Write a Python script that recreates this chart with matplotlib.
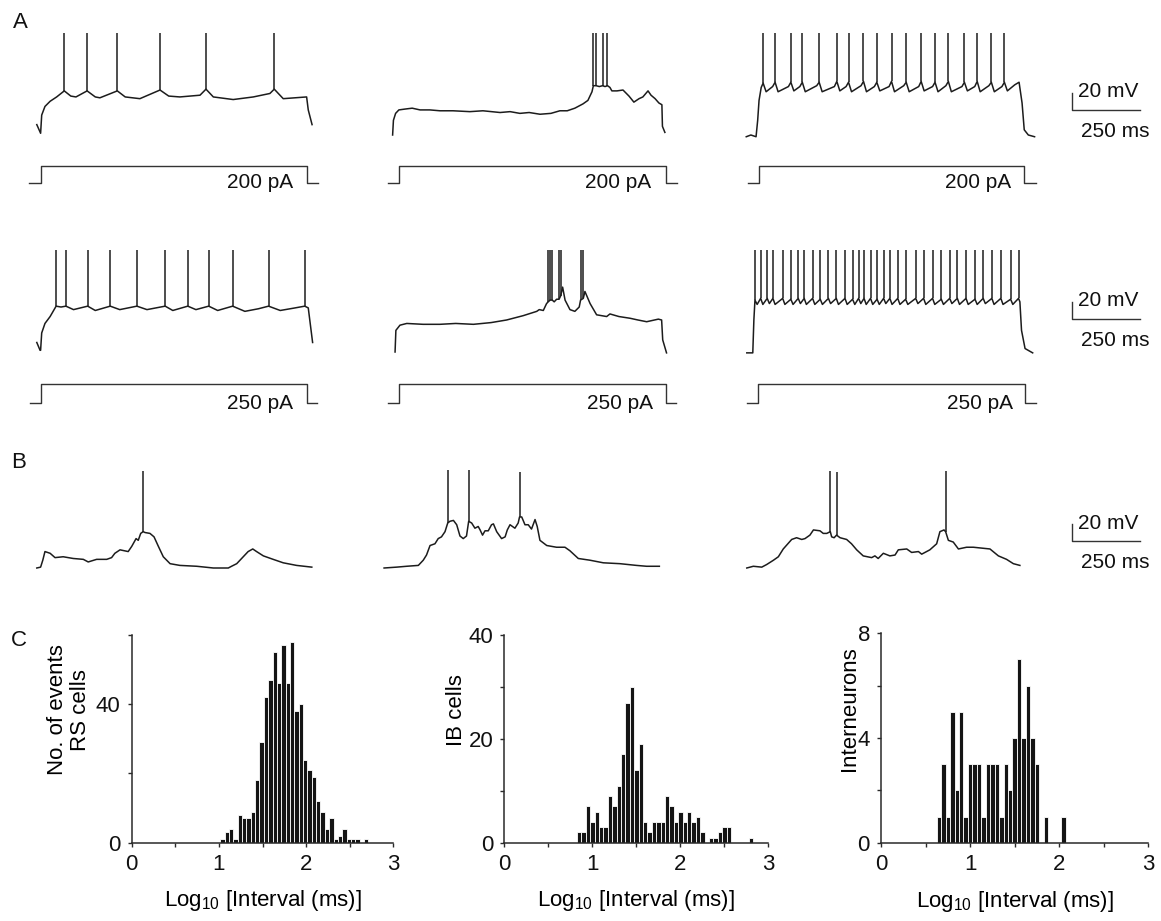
#!/usr/bin/env python3
"""
Firing patterns of RS, IB and FS cells: current-step responses (A),
spontaneous activity (B) and inter-spike-interval histograms (C).
"""

import numpy as np
import matplotlib
matplotlib.use('Agg')
import matplotlib.pyplot as plt

plt.rcParams.update({
    'font.family': 'Liberation Sans', 'font.size': 15,
    'mathtext.fontset': 'custom', 'mathtext.rm': 'Liberation Sans',
    'mathtext.it': 'Liberation Sans:italic',
    'axes.linewidth': 1.1, 'axes.edgecolor': '#2a2a2a',
    'xtick.labelsize': 16, 'ytick.labelsize': 16,
    'xtick.color': '#2a2a2a', 'ytick.color': '#2a2a2a',
    'xtick.labelcolor': '#111111', 'ytick.labelcolor': '#111111',
    'text.color': '#111111',
})

INK = '#1c1c1c'

# ---- A: responses to 200 pA steps (time ms, potential mV) ----
RS_200_T = [25, 39, 43, 55, 74, 98, 126, 150, 169, 210, 240, 257, 321, 350, 404, 478, 510, 551, 625, 647,
            674, 747, 821, 882, 898, 931, 1017, 1023, 1037]
RS_200_V = [-58, -68, -47, -37, -31, -26, -19, -25, -26, -19, -26, -27, -19, -26, -28, -18, -25, -26, -24, -17,
            -26, -29, -26, -22, -17, -28, -26, -41, -58]
RS_200_SPIKES = [126, 210, 321, 478, 647, 898]

IB_200_T = [28, 31, 39, 51, 74, 100, 129, 165, 202, 250, 312, 360, 423, 460, 496, 530, 570, 610, 643, 670,
            698, 728, 746, 761, 766, 771, 776, 788, 800, 809, 818, 827, 834, 853, 875, 897, 915, 934, 948, 967,
            978, 993, 1007, 1018, 1020, 1029]
IB_200_V = [-70, -53, -45, -41, -40, -39, -41, -41, -42, -42, -43, -42, -44, -43, -45, -44, -46, -45, -42, -42,
            -39, -34, -30, -20, -13, -13, -13, -14, -13, -14, -13, -15, -19, -19, -18, -25, -32, -28, -26, -19,
            -24, -28, -33, -35, -60, -67]
IB_200_SPIKES = [766, 776, 800, 818]

FS_200_T = [23, 40, 59, 65, 70, 78, 85, 96, 120, 129, 140, 178, 187, 198, 220, 229, 240, 282, 291, 302,
            347, 356, 367, 390, 399, 410, 445, 454, 465, 494, 503, 514, 548, 557, 568, 602, 611, 622, 657, 666,
            677, 708, 717, 728, 757, 766, 777, 816, 825, 836, 863, 872, 883, 915, 924, 935, 963, 972, 983, 1010,
            1026, 1037, 1045, 1060, 1083]
FS_200_V = [-72, -70, -72, -53, -30, -15, -10, -20, -14, -9, -20, -14, -9, -19, -14, -9, -20, -13, -9, -20,
            -14, -8, -19, -14, -9, -20, -13, -8, -20, -14, -9, -19, -14, -8, -20, -13, -9, -20, -14, -8,
            -19, -14, -9, -20, -13, -8, -20, -14, -9, -19, -14, -8, -20, -13, -9, -20, -14, -9, -19, -12,
            -9, -33, -64, -70, -72]
FS_200_SPIKES = [85, 129, 187, 229, 291, 356, 399, 454, 503, 557, 611, 666, 717, 766, 825, 872, 924, 972]

# ---- A: responses to 250 pA steps ----
RS_250_T = [25, 37, 39, 43, 55, 74, 96, 114, 132, 160, 212, 240, 295, 330, 393, 430, 497, 525, 580, 610,
            657, 690, 745, 790, 840, 877, 920, 975, 1010, 1023, 1039]
RS_250_V = [-59, -68, -68, -48, -37, -29, -17, -18, -17, -21, -17, -22, -17, -21, -17, -21, -17, -22, -17, -21,
            -17, -22, -17, -23, -20, -17, -22, -19, -17, -19, -59]
RS_250_SPIKES = [96, 132, 212, 295, 393, 497, 580, 657, 745, 877, 1010]

IB_250_T = [37, 40, 55, 80, 140, 202, 260, 325, 390, 447, 508, 558, 567, 582, 594, 600, 607, 615, 622, 631,
            640, 646, 653, 662, 680, 698, 714, 719, 729, 735, 754, 778, 815, 827, 860, 901, 930, 962, 1005, 1017,
            1021, 1035]
IB_250_V = [-70, -45, -39, -37, -38, -38, -37, -38, -36, -33, -28, -23, -21, -22, -14, -12, -10, -10, -12, -9,
            -9, -5, 5, -10, -21, -23, -18, -10, -8, 0, -14, -27, -29, -26, -29, -31, -33, -35, -32, -33,
            -56, -71]
IB_250_SPIKES = [600, 607, 615, 640, 646, 719, 729]

FS_250_T = [25, 47, 51, 55, 63, 76, 84, 100, 108, 121, 129, 157, 165, 187, 195, 214, 222, 236, 244, 267,
            275, 295, 303, 325, 333, 354, 362, 386, 394, 414, 422, 436, 444, 456, 464, 480, 488, 504, 512, 528,
            536, 551, 559, 580, 588, 609, 617, 646, 654, 675, 683, 708, 716, 740, 748, 771, 779, 799, 807, 831,
            839, 864, 872, 894, 902, 926, 934, 959, 967, 995, 1003, 1024, 1029, 1035, 1048, 1076]
FS_250_V = [-71, -71, -33, -10, -15, -8, -15, -8, -14, -8, -15, -8, -15, -9, -15, -8, -14, -8, -15, -8,
            -15, -9, -15, -8, -14, -8, -15, -8, -15, -9, -15, -8, -14, -8, -15, -8, -15, -9, -15, -8,
            -14, -8, -15, -8, -15, -9, -15, -8, -14, -8, -15, -8, -15, -9, -15, -8, -14, -8, -15, -8,
            -15, -9, -15, -8, -14, -8, -15, -8, -15, -9, -15, -8, -12, -45, -66, -71]
FS_250_SPIKES = [55, 76, 100, 121, 157, 187, 214, 236, 267, 295, 325, 354, 386, 414, 436, 456, 480, 504,
                 528, 551, 580, 609, 646, 675, 708, 740, 771, 799, 831, 864, 894, 926, 959, 995, 1024]

SPIKE_PEAK = 48

# current steps: [sweep start, step on, step off, sweep end] (ms)
STEPS_200 = [[-4, 39, 1017, 1059], [10, 51, 1034, 1073], [28, 70, 1045, 1088]]
STEPS_250 = [[0, 40, 1017, 1054], [12, 51, 1032, 1070], [27, 67, 1048, 1088]]
STEP_LABEL_T_200 = [967, 980, 998]
STEP_LABEL_T_250 = [967, 985, 1005]

# ---- B: spontaneous activity ----
B_RS_T = [25, 39, 47, 55, 74, 92, 122, 159, 196, 214, 245, 282, 300, 312, 331, 361, 374, 390, 398, 407,
          416, 423, 441, 456, 472, 490, 515, 551, 613, 674, 729, 741, 760, 784, 802, 819, 833, 858, 894, 931,
          980, 1036]
B_RS_V = [-70, -69, -61, -51, -53, -58, -57, -59, -60, -63, -60, -60, -58, -53, -49, -51, -45, -36, -38, -30,
          -28, -29, -30, -34, -45, -57, -65, -67, -68, -70, -70, -68, -65, -57, -51, -48, -51, -56, -60, -64,
          -67, -69]
B_RS_SPIKES = [416]
B_RS_PEAKS = [42]

B_IB_T = [15, 61, 98, 141, 159, 171, 184, 202, 214, 226, 239, 249, 257, 270, 282, 294, 306, 318, 326, 337,
          349, 361, 368, 377, 386, 398, 410, 417, 429, 447, 460, 468, 478, 496, 508, 513, 521, 533, 545, 557,
          570, 578, 588, 613, 649, 680, 698, 729, 772, 821, 882, 943, 980, 1027]
B_IB_V = [-70, -69, -68, -67, -61, -55, -44, -42, -36, -34, -28, -18, -16, -15, -20, -33, -36, -33, -16, -18,
          -24, -22, -26, -32, -27, -27, -20, -19, -28, -36, -34, -26, -20, -24, -18, -11, -11, -20, -20, -25,
          -14, -22, -38, -44, -46, -46, -50, -59, -61, -64, -65, -67, -68, -68]
B_IB_SPIKES = [249, 326, 513]
B_IB_PEAKS = [43, 43, 41]

B_FS_T = [25, 49, 80, 98, 123, 141, 159, 190, 208, 227, 239, 257, 270, 294, 306, 319, 332, 337, 346, 355,
          368, 392, 410, 429, 453, 484, 496, 508, 527, 551, 570, 582, 613, 631, 656, 668, 698, 723, 735, 750,
          756, 766, 784, 803, 833, 858, 919, 950, 980, 1005, 1029]
B_FS_V = [-70, -68, -69, -66, -61, -57, -48, -37, -35, -37, -36, -32, -26, -27, -30, -30, -28, -34, -35, -32,
          -35, -37, -42, -49, -56, -58, -56, -59, -53, -56, -55, -49, -48, -52, -51, -54, -49, -42, -28, -26,
          -28, -38, -40, -48, -46, -46, -48, -56, -60, -65, -67]
B_FS_SPIKES = [332, 355, 756]
B_FS_PEAKS = [42, 41, 42]

# ---- C: inter-spike-interval histograms (bin width 0.05 log10 units) ----
BIN_W = 0.05
RS_FIRST_BIN = 1.04
RS_COUNTS = [1, 3, 4, 1, 8, 7, 7, 9, 18, 29, 42, 47, 55, 46, 57, 46, 58, 38, 40, 24,
             21, 19, 12, 9, 4, 7, 1, 2, 4, 1, 1, 1, 0, 1]
IB_FIRST_BIN = 0.85
IB_COUNTS = [2, 2, 7, 4, 6, 3, 3, 9, 7, 11, 17, 27, 30, 14, 19, 4, 2, 4, 4, 4,
             9, 7, 4, 6, 4, 6, 4, 5, 2, 0, 1, 1, 2, 3, 3, 0, 0, 0, 0, 1]
IN_FIRST_BIN = 0.65
IN_COUNTS = [1, 3, 1, 5, 2, 5, 1, 3, 3, 3, 1, 3, 3, 3, 1, 3, 2, 4, 7, 4,
             6, 4, 3, 0, 1, 0, 0, 0, 1]

W, H = 1161, 921
MS_PER_PX = 250 / 68
MV_PER_PX = 20 / 17.3

fig = plt.figure(figsize=(W / 100, H / 100), dpi=100)
fig.patch.set_facecolor('white')


def px_axes(left, top, width, height):
    return fig.add_axes([left / W, 1 - (top + height) / H, width / W, height / H])


def trace_axes(x0, y_rest, tlim, vlim=(-80, 55), v_rest=-70):
    left = x0 + tlim[0] / MS_PER_PX
    width = (tlim[1] - tlim[0]) / MS_PER_PX
    top = y_rest - (vlim[1] - v_rest) / MV_PER_PX
    height = (vlim[1] - vlim[0]) / MV_PER_PX
    ax = px_axes(left, top, width, height)
    ax.set_xlim(tlim)
    ax.set_ylim(vlim)
    ax.axis('off')
    return ax


def current_axes(x0, y_zero, amp, amp_px, tlim):
    px_per = amp_px / amp
    ilim = (-0.8 * amp, 1.6 * amp)
    left = x0 + tlim[0] / MS_PER_PX
    width = (tlim[1] - tlim[0]) / MS_PER_PX
    top = y_zero - ilim[1] * px_per
    height = (ilim[1] - ilim[0]) * px_per
    ax = px_axes(left, top, width, height)
    ax.set_xlim(tlim)
    ax.set_ylim(ilim)
    ax.axis('off')
    return ax


def draw_trace(ax, t, v, spikes, peaks):
    ax.plot(t, v, color=INK, lw=1.1, solid_joinstyle='round')
    base = np.interp(spikes, t, v)
    ax.vlines(spikes, base, peaks, color=INK, lw=1.1)


def draw_step(ax, step, amp, label_t, label):
    t0, t1, t2, t3 = step
    ax.plot([t0, t1, t1, t2, t2, t3], [0, 0, amp, amp, 0, 0], color='#333333', lw=1.0)
    ax.text(label_t, 0, label, ha='right', va='center', fontsize=15)


def scale_bar(ax, t0, v0):
    ax.plot([t0, t0, t0 + 250], [v0 + 20, v0, v0], color='#333333', lw=1.0)
    ax.text(t0 + 24, v0 + 21, '20 mV', ha='left', va='center', fontsize=15)
    ax.text(t0 + 34, v0 - 24.5, '250 ms', ha='left', va='center', fontsize=15)


COL_X0 = [30, 385, 740]
TLIM = (-20, 1120)
TLIM_LAST = (-20, 1520)

rows = [
    (135, [(RS_200_T, RS_200_V, RS_200_SPIKES), (IB_200_T, IB_200_V, IB_200_SPIKES),
           (FS_200_T, FS_200_V, FS_200_SPIKES)], STEPS_200, STEP_LABEL_T_200, 200, 182.7, 17.0, -41),
    (352, [(RS_250_T, RS_250_V, RS_250_SPIKES), (IB_250_T, IB_250_V, IB_250_SPIKES),
           (FS_250_T, FS_250_V, FS_250_SPIKES)], STEPS_250, STEP_LABEL_T_250, 250, 403.3, 19.3, -32),
]
for y_rest, traces, steps, label_ts, amp, y_zero, amp_px, bar_v in rows:
    for c, (t, v, sp) in enumerate(traces):
        tl = TLIM_LAST if c == 2 else TLIM
        ax = trace_axes(COL_X0[c], y_rest, tl)
        draw_trace(ax, t, v, sp, SPIKE_PEAK)
        if c == 2:
            scale_bar(ax, 1220, bar_v)
        cax = current_axes(COL_X0[c], y_zero, amp, amp_px, TLIM)
        draw_step(cax, steps[c], amp, label_ts[c], f'{amp} pA')

# B
B_X0 = [30, 380, 740]
b_traces = [(B_RS_T, B_RS_V, B_RS_SPIKES, B_RS_PEAKS),
            (B_IB_T, B_IB_V, B_IB_SPIKES, B_IB_PEAKS),
            (B_FS_T, B_FS_V, B_FS_SPIKES, B_FS_PEAKS)]
for c, (t, v, sp, pk) in enumerate(b_traces):
    tl = TLIM_LAST if c == 2 else TLIM
    ax = trace_axes(B_X0[c], 568, tl)
    draw_trace(ax, t, v, sp, pk)
    if c == 2:
        scale_bar(ax, 1220, -39)

# C
hists = [
    ((131.7, 635, 261.6, 207.7), RS_FIRST_BIN, RS_COUNTS, 60, [0, 20, 40, 60], ['0', '', '40', ''],
     'No. of events\nRS cells', -0.155),
    ((504.3, 635, 264.0, 207.7), IB_FIRST_BIN, IB_COUNTS, 40, [0, 10, 20, 30, 40], ['0', '', '20', '', '40'],
     'IB cells', -0.14),
    ((881.0, 633.3, 267.3, 209.4), IN_FIRST_BIN, IN_COUNTS, 8, [0, 2, 4, 6, 8], ['0', '', '4', '', '8'],
     'Interneurons', -0.08),
]
for rect, first, counts, ytop, yticks, ylabels, ylab, lab_x in hists:
    ax = px_axes(*rect)
    centers = first + BIN_W * np.arange(len(counts))
    ax.bar(centers, counts, width=BIN_W, color='#141414', edgecolor='white', linewidth=0.6)
    ax.set_xlim(0, 3)
    ax.set_ylim(0, ytop)
    ax.set_xticks([0, 0.5, 1, 1.5, 2, 2.5, 3])
    ax.set_xticklabels(['0', '', '1', '', '2', '', '3'])
    ax.set_yticks(yticks)
    ax.set_yticklabels(ylabels)
    ax.tick_params(direction='out', length=3, width=1.0, pad=5)
    for s in ('top', 'right'):
        ax.spines[s].set_visible(False)
    ax.set_ylabel(ylab, fontsize=16, linespacing=1.15)
    ax.yaxis.set_label_coords(lab_x, 0.64)
    ax.set_xlabel('Log$_{10}$ [Interval (ms)]', fontsize=16)
    ax.xaxis.set_label_coords(0.5, -0.22)

fig.text(20 / W, 1 - 22 / H, 'A', fontsize=16, ha='center', va='center')
fig.text(19 / W, 1 - 462 / H, 'B', fontsize=16, ha='center', va='center')
fig.text(19 / W, 1 - 640 / H, 'C', fontsize=16, ha='center', va='center')

fig.savefig('out.png', dpi=100, facecolor='white')
